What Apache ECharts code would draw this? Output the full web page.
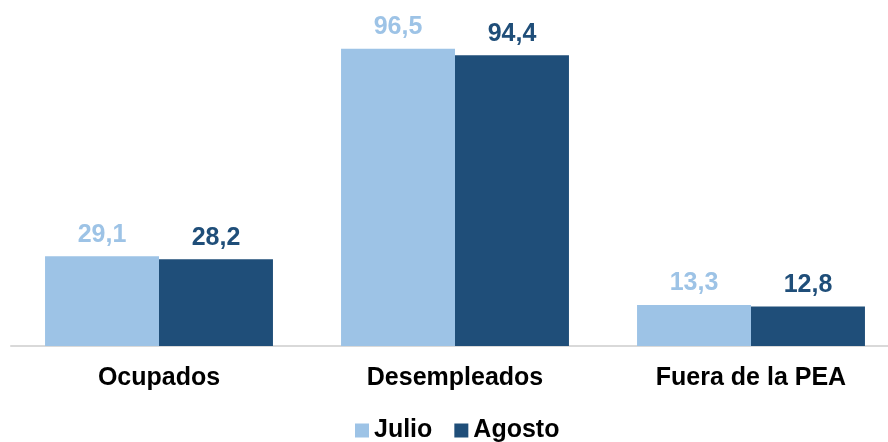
<!DOCTYPE html>
<html>
<head>
<meta charset="utf-8">
<script src="https://cdn.jsdelivr.net/npm/echarts@6/dist/echarts.min.js"></script>
<style>
  html, body { margin: 0; padding: 0; background: #fff; overflow: hidden; }
  #main { width: 899px; height: 442px; }
</style>
</head>
<body>
<div id="main"></div>
<script>
var categories = ['Ocupados', 'Desempleados', 'Fuera de la PEA'];
var julio = [29.1, 96.5, 13.3];
var agosto = [28.2, 94.4, 12.8];

var myChart = echarts.init(document.getElementById('main'));

function comma(p) {
    return String(p.value.toFixed(1)).replace('.', ',');
}

var option = {
    animation: false,
    grid: {
        left: 11,
        top: 38,
        right: 0,
        bottom: 96
    },
    legend: {
        top: 413,
        left: 350,
        itemWidth: 14,
        itemHeight: 14,
        itemGap: 22,
        icon: 'rect',
        textStyle: {
            fontFamily: 'Liberation Sans',
            fontWeight: 'bold',
            fontSize: 25,
            color: '#000'
        },
        data: ['Julio', 'Agosto']
    },
    xAxis: {
        type: 'category',
        data: categories,
        axisTick: { show: false },
        axisLine: { lineStyle: { color: '#d9d9d9', width: 2 } },
        axisLabel: {
            margin: 20,
            fontFamily: 'Liberation Sans',
            fontWeight: 'bold',
            fontSize: 25,
            color: '#000'
        }
    },
    yAxis: {
        type: 'value',
        min: 0,
        max: 100,
        show: false
    },
    series: [
        {
            name: 'Julio',
            type: 'bar',
            data: julio,
            barGap: '0%',
            barCategoryGap: '23%',
            itemStyle: { color: '#9dc3e6' },
            label: {
                show: true,
                position: 'top',
                distance: 9,
                formatter: comma,
                fontFamily: 'Liberation Sans',
                fontWeight: 'bold',
                fontSize: 25,
                color: '#9dc3e6'
            }
        },
        {
            name: 'Agosto',
            type: 'bar',
            data: agosto,
            itemStyle: { color: '#1f4e79' },
            label: {
                show: true,
                position: 'top',
                distance: 9,
                formatter: comma,
                fontFamily: 'Liberation Sans',
                fontWeight: 'bold',
                fontSize: 25,
                color: '#1f4e79'
            }
        }
    ]
};

myChart.setOption(option, true);
window.onresize = myChart.resize;
</script>
</body>
</html>
